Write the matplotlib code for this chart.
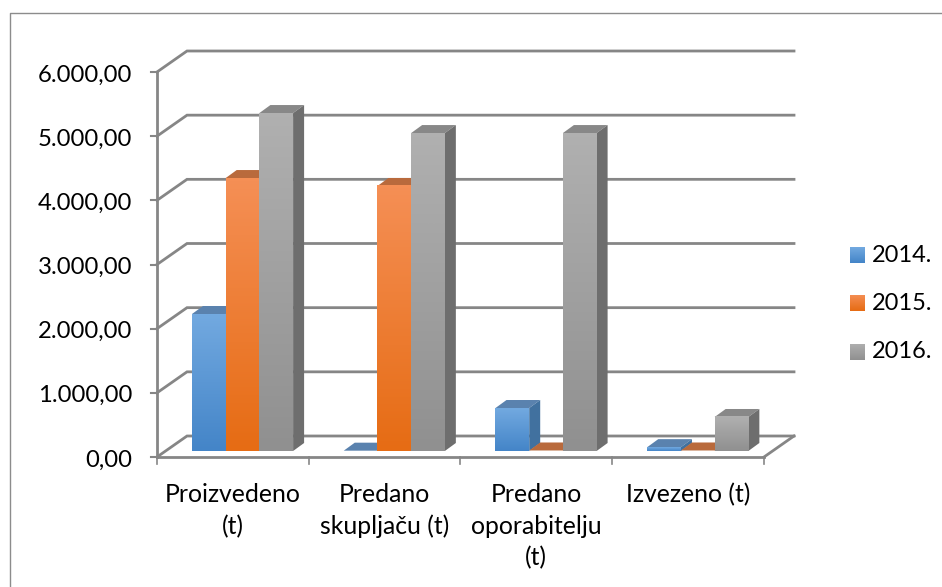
import matplotlib
matplotlib.use("Agg")
import matplotlib.pyplot as plt
import numpy as np
from matplotlib.colors import LinearSegmentedColormap
from matplotlib.lines import Line2D
from matplotlib.patches import Polygon

categories = ["Proizvedeno\n(t)", "Predano\nskupljaču (t)", "Predano\noporabitelju\n(t)", "Izvezeno (t)"]
years = ["2014.", "2015.", "2016."]
values_2014 = [2135, 5, 670, 60]
values_2015 = [4254, 4130, 8, 8]
values_2016 = [5267, 4955, 4955, 530]
yticks = [0, 1000, 2000, 3000, 4000, 5000, 6000]
yticklabels = ["0,00", "1.000,00", "2.000,00", "3.000,00", "4.000,00", "5.000,00", "6.000,00"]

W, H = 942, 587
LEFT, RIGHT, BOTTOM, TOP = 157, 764, 457, 72
GRID = "#868686"

# (top colour, bottom colour, top face, side face top, side face bottom)
styles = [
    ("#72a9e0", "#4485c8", "#5a82ae", "#41719f", "#2b5c8c"),
    ("#f58f55", "#e66c14", "#b96a3c", "#b05c28", "#a04c14"),
    ("#b0b0b0", "#909090", "#888888", "#6e6e6e", "#5c5c5c"),
]

fig = plt.figure(figsize=(W / 100, H / 100), dpi=100)
plt.rcParams["font.family"] = ["Lato", "DejaVu Sans"]
# the frame only shows on the left and top, the rest is cut off
fig.add_artist(Line2D([9.5 / W, 9.5 / W, 1], [0, 1 - 12.5 / H, 1 - 12.5 / H], color="#8c8c8c", lw=1.0, transform=fig.transFigure))

ax = fig.add_axes([LEFT / W, 1 - BOTTOM / H, (RIGHT - LEFT) / W, (BOTTOM - TOP) / H])
ax.axis("off")

px = 4 / (RIGHT - LEFT)
py = 6000 / (BOTTOM - TOP)
back_x, back_y = 30 * px, 21 * py
front_y = 6 * py
depth_x, depth_y = 11 * px, 8 * py
bar_w = 33.7 * px
group_start = 35 * px


def vgrad(x0, x1, y0, y1, c_top, c_bot, zorder):
    cmap = LinearSegmentedColormap.from_list("g", [c_top, c_bot])
    ax.imshow(np.linspace(0, 1, 64).reshape(-1, 1), extent=(x0, x1, y0, y1), origin="upper",
              cmap=cmap, aspect="auto", zorder=zorder, clip_on=False, interpolation="bilinear")


# walls
for v in yticks:
    ax.plot([0, back_x, 4 + back_x], [v, v + back_y, v + back_y], color=GRID, lw=2, clip_on=False, zorder=1, solid_joinstyle="miter")
    ax.plot([-6 * px, 0], [v, v], color=GRID, lw=1.5, clip_on=False, zorder=1)
ax.plot([4, 4 + back_x], [0, back_y], color=GRID, lw=2, clip_on=False, zorder=1)
ax.plot([0, 0], [0, 6000], color=GRID, lw=2, clip_on=False, zorder=1)
ax.plot([0, 4], [0, 0], color=GRID, lw=2, clip_on=False, zorder=2)
for i in range(5):
    ax.plot([i, i], [0, -7 * py], color=GRID, lw=1.2, clip_on=False, zorder=2)

# bars
for s, series in enumerate([values_2014, values_2015, values_2016]):
    for c, v in enumerate(series):
        x0 = c + group_start + s * bar_w
        x1 = x0 + bar_w
        y0 = front_y
        y1 = front_y + v
        st = styles[s]
        z = 3 + c * 3 + s * 0.1
        ax.add_patch(Polygon([(x0, y1), (x1, y1), (x1 + depth_x, y1 + depth_y), (x0 + depth_x, y1 + depth_y)],
                             fc=st[2], ec="none", zorder=z, clip_on=False))
        ax.add_patch(Polygon([(x1, y0), (x1 + depth_x, y0 + depth_y), (x1 + depth_x, y1 + depth_y), (x1, y1)],
                             fc=st[3], ec="none", zorder=z, clip_on=False))
        if v > 20:
            vgrad(x0, x1, y0, y1, st[0], st[1], z + 0.05)
ax.set_xlim(0, 4)
ax.set_ylim(0, 6000)

# labels
for v, lab in zip(yticks, yticklabels):
    ax.text(-25 * px, v - 3 * py, lab, ha="right", va="center", fontsize=17.2, color="black", clip_on=False)
for i, lab in enumerate(categories):
    ax.text(i + 0.5, -26 * py, lab, ha="center", va="top", fontsize=17.8, color="black", linespacing=1.45, clip_on=False)

# legend
for lab, y, st in zip(years, [255, 303, 352], styles):
    lax = fig.add_axes([850 / W, 1 - (y + 8) / H, 15 / W, 16 / H])
    lax.axis("off")
    cmap = LinearSegmentedColormap.from_list("g", [st[0], st[1]])
    lax.imshow(np.linspace(0, 1, 32).reshape(-1, 1), aspect="auto", cmap=cmap)
    fig.text(872 / W, 1 - y / H, lab, ha="left", va="center", fontsize=17, color="black")

fig.savefig("out.png", dpi=100)
